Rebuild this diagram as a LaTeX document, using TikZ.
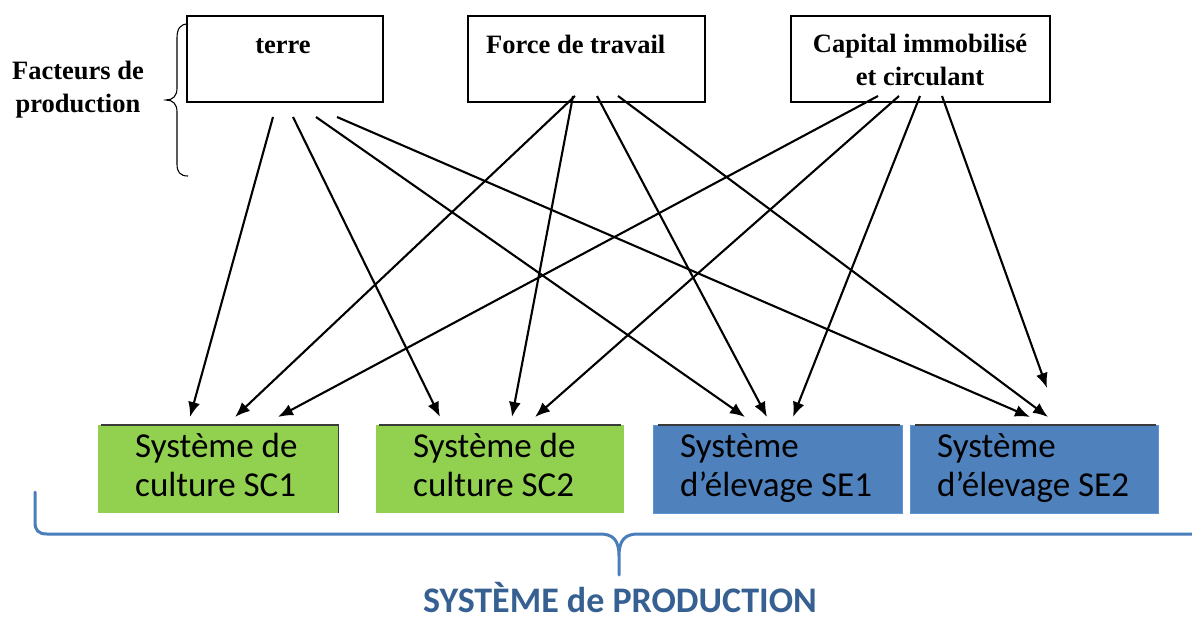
\documentclass[tikz,border=0pt]{standalone}
\usepackage{fontspec}
\setmainfont{Liberation Serif}
\newfontfamily\calib{Carlito}
\usetikzlibrary{arrows.meta}
\definecolor{sysgreen}{HTML}{92D050}
\definecolor{sysblue}{HTML}{4F81BD}
\definecolor{sysblueedge}{HTML}{5F93D3}
\definecolor{braceblue}{HTML}{4A7EBB}
\definecolor{titleblue}{HTML}{376092}
\definecolor{edgegray}{HTML}{3A3A3A}
\begin{document}
\begin{tikzpicture}[x=1pt,y=-1pt,
  topbox/.style={draw=black, line width=1.5pt, anchor=north west, inner sep=0pt, minimum height=86pt},
  toptext/.style={font=\fontsize{26.5}{32.5}\selectfont\bfseries, inner sep=0pt},
  sysbox/.style={anchor=north west, inner sep=0pt, minimum height=88pt},
  greenbox/.style={sysbox, fill=sysgreen},
  bluebox/.style={sysbox, fill=sysblue, draw=sysblueedge, line width=1pt},
  topedge/.style={draw=edgegray, line width=1.5pt},
  systext/.style={font=\calib\fontsize{35}{39}\selectfont, align=left, inner sep=0pt, anchor=base west},
  arr/.style={line width=2.1pt, -{Latex[length=15pt,width=12pt]}},
  facbrace/.style={draw=black, line width=1.1pt},
  sysbrace/.style={draw=braceblue, line width=3pt, line cap=round, line join=round},
]
\useasboundingbox (0,0) rectangle (1192,621);

% top boxes
\node[topbox, minimum width=196pt] (terre) at (186,15) {};
\node[topbox, minimum width=237pt] (force) at (467,15) {};
\node[topbox, minimum width=259pt] (capital) at (790,15) {};
\node[toptext, anchor=base] (terreT) at (283,53) {terre};
\node[toptext, anchor=base west] (forceT) at (486,53) {Force de travail};
\node[toptext, anchor=base, align=center] (capT) at (920,85) {Capital immobilisé\\et circulant};

% facteurs de production
\node[toptext, anchor=base, align=center] (fact) at (78,112) {Facteurs de\\production};
\draw[facbrace] (188,24) .. controls (180,24) and (177,29) .. (177,38) -- (177,88)
  .. controls (177,96) and (173,100) .. (166,100)
  .. controls (173,100) and (177,104) .. (177,112) -- (177,164)
  .. controls (177,172) and (180,176) .. (188,176);

% bottom boxes
\node[greenbox, minimum width=240pt] (sc1) at (98,425) {};
\node[greenbox, minimum width=248pt] (sc2) at (376,425) {};
\node[bluebox, minimum width=249pt] (se1) at (653,425) {};
\node[bluebox, minimum width=248pt] (se2) at (910,425) {};
\draw[topedge] ([xshift=3pt]sc1.north west) -- (sc1.north east) -- (sc1.south east);
\draw[topedge] ([xshift=3pt]sc2.north west) -- ([xshift=-3pt]sc2.north east);
\draw[topedge] ([xshift=5pt]se1.north west) -- ([xshift=-3pt]se1.north east);
\draw[topedge] ([xshift=5pt]se2.north west) -- ([xshift=-3pt]se2.north east);
\node[systext] (sc1T) at (135,496) {Système de\\culture SC1};
\node[systext] (sc2T) at (413,496) {Système de\\culture SC2};
\node[systext] (se1T) at (680,496) {Système\\d’élevage SE1};
\node[systext] (se2T) at (937,496) {Système\\d’élevage SE2};

% arrow start points
\coordinate (t1) at (273,117);
\coordinate (t2) at (293,117);
\coordinate (t3) at (316,117);
\coordinate (t4) at (337,117);
\coordinate (f1) at (575,96);
\coordinate (f2) at (573,96);
\coordinate (f3) at (597,96);
\coordinate (f4) at (618,96);
\coordinate (c1) at (878,96);
\coordinate (c2) at (899,96);
\coordinate (c3) at (920,96);
\coordinate (c4) at (942,96);
% arrow end points
\coordinate (sc1a) at (190,417);
\coordinate (sc1b) at (235,417);
\coordinate (sc1c) at (278,417);
\coordinate (sc2a) at (440,417);
\coordinate (sc2b) at (512,417);
\coordinate (sc2c) at (535,417);
\coordinate (se1a) at (745,417);
\coordinate (se1b) at (767,417);
\coordinate (se1c) at (793,417);
\coordinate (se2a) at (1030,417);
\coordinate (se2b) at (1048,417);
\coordinate (se2c) at (1047,388);

\draw[arr] (t1) -- (sc1a);
\draw[arr] (t2) -- (sc2a);
\draw[arr] (t3) -- (se1a);
\draw[arr] (t4) -- (se2a);
\draw[arr] (f1) -- (sc1b);
\draw[arr] (f2) -- (sc2b);
\draw[arr] (f3) -- (se1b);
\draw[arr] (f4) -- (se2b);
\draw[arr] (c1) -- (sc1c);
\draw[arr] (c2) -- (sc2c);
\draw[arr] (c3) -- (se1c);
\draw[arr] (c4) -- (se2c);

% systeme de production brace
\draw[sysbrace] (35,492) -- (35,522) .. controls (35,530) and (38,534) .. (47,534) -- (600,534)
  .. controls (613,534) and (619,540) .. (619,556) -- (619,575) -- (619,556)
  .. controls (619,540) and (625,534) .. (638,534) -- (1194,534);
\node[font=\calib\bfseries\fontsize{36}{40}\selectfont, text=titleblue, anchor=base, inner sep=0pt] (title) at (620,612) {SYSTÈME de PRODUCTION};
\end{tikzpicture}
\end{document}
